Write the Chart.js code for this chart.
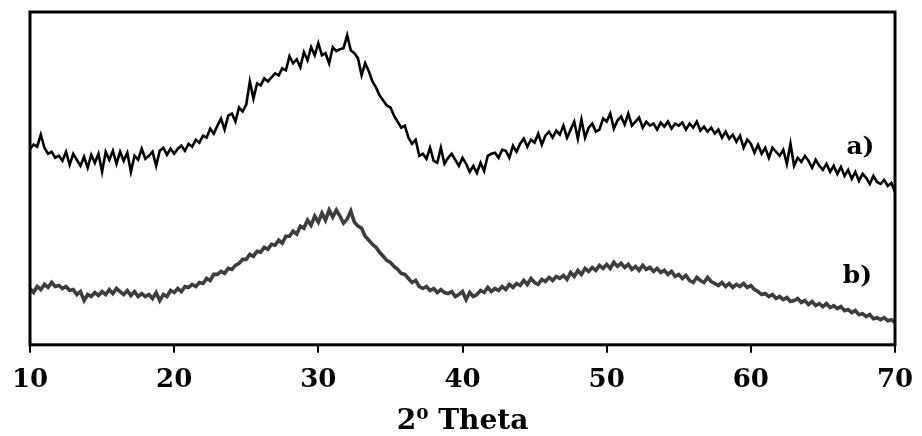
<!DOCTYPE html>
<html>
<head>
<meta charset="utf-8">
<script src="https://cdn.jsdelivr.net/npm/chart.js@4"></script>
<style>
  html, body { margin: 0; padding: 0; background: #fff; }
  #wrap { width: 922px; height: 436px; }
</style>
</head>
<body>
<div id="wrap"><canvas id="xrdChart" width="922" height="436"></canvas></div>
<script>
// XRD patterns, 2-theta from 10 to 70 deg in 0.25 deg steps, intensity in a.u.
const thetaStart = 10;
const thetaStep = 0.25;

// sample a)
const intensityA = [
  195, 199, 197, 209,  196, 190, 192, 186,  188, 183, 192, 179,  190, 184, 178, 187,
  176, 189, 181, 190,  172, 192, 184, 193,  180, 192, 183, 191,  172, 188, 184, 195,
  185, 188, 192, 178,  193, 196, 189, 195,  190, 195, 198, 193,  200, 197, 204, 201,
  208, 206, 215, 210,  218, 225, 214, 228,  230, 222, 236, 232,  239, 262, 245, 260,
  258, 265, 262, 266,  270, 268, 275, 273,  287, 280, 284, 276,  291, 283, 296, 288,
  300, 288, 290, 280,  296, 292, 294, 295,  308, 293, 290, 285,  268, 280, 272, 262,
  256, 248, 243, 238,  236, 228, 222, 216,  218, 206, 200, 204,  188, 190, 185, 196,
  183, 181, 196, 180,  186, 190, 184, 178,  186, 180, 172, 178,  171, 181, 173, 188,
  190, 191, 186, 194,  193, 186, 198, 192,  200, 205, 197, 204,  201, 210, 199, 208,
  212, 206, 213, 209,  218, 206, 214, 222,  205, 224, 206, 216,  220, 212, 214, 225,
  222, 230, 215, 223,  227, 219, 230, 218,  222, 226, 216, 222,  218, 220, 214, 221,
  217, 222, 215, 220,  218, 221, 214, 220,  216, 222, 213, 217,  212, 216, 210, 214,
  206, 212, 205, 209,  202, 208, 196, 204,  200, 191, 199, 190,  196, 186, 196, 192,
  188, 194, 180, 200,  178, 186, 182, 188,  183, 176, 184, 178,  174, 180, 172, 178,
  170, 177, 168, 174,  165, 172, 163, 170,  166, 160, 168, 162,  160, 164, 158, 161,
  152
];

// sample b)
const intensityB = [
  56, 52, 58, 55,  60, 57, 62, 58,  59, 56, 58, 54,  55, 50, 53, 44,
  50, 48, 52, 49,  53, 50, 55, 51,  56, 53, 50, 54,  49, 53, 48, 51,
  48, 50, 46, 52,  44, 50, 48, 54,  52, 56, 53, 58,  57, 60, 58, 62,
  61, 66, 64, 70,  70, 73, 71, 76,  75, 79, 81, 85,  85, 90, 88, 93,
  92, 97, 95, 100,  99, 104, 101, 108,  108, 113, 110, 118,  116, 124, 119, 128,
  122, 131, 124, 134,  127, 134, 128, 121,  125, 133, 122, 118,  116, 108, 104, 100,
  97, 92, 88, 84,  82, 78, 75, 71,  70, 66, 62, 64,  58, 56, 58, 54,
  56, 52, 55, 52,  51, 53, 48, 50,  53, 45, 52, 48,  50, 54, 52, 57,
  53, 56, 54, 58,  55, 60, 57, 61,  59, 64, 60, 66,  62, 60, 65, 63,
  67, 64, 68, 66,  69, 65, 72, 68,  74, 70, 76, 73,  77, 74, 79, 76,
  80, 76, 82, 78,  81, 77, 80, 75,  78, 74, 79, 75,  77, 73, 76, 72,
  74, 70, 73, 68,  70, 66, 69, 64,  62, 67, 64, 62,  67, 63, 61, 59,
  62, 58, 61, 57,  60, 58, 61, 57,  59, 55, 53, 50,  51, 48, 50, 46,
  48, 45, 47, 43,  44, 46, 42, 44,  40, 43, 39, 41,  38, 41, 37, 39,
  36, 38, 34, 35,  32, 34, 30, 31,  28, 30, 26, 27,  25, 27, 24, 25,
  22
];

const xTicks = [10, 20, 30, 40, 50, 60, 70];
const seriesNames = ['a)', 'b)'];
const seriesColors = ['#000000', '#3d3d3d'];
const nameTheta = [67.6, 67.4];
const nameIntensity = [196, 68];

const toPoints = (arr) => arr.map((v, i) => ({ x: thetaStart + i * thetaStep, y: v }));

const fontFamily = '"DejaVu Serif", "Liberation Serif", serif';

// box round the plot plus the a) / b) labels
const framePlugin = {
  id: 'frame',
  afterDatasetsDraw(chart) {
    const { ctx, chartArea: a, scales } = chart;
    ctx.save();
    ctx.strokeStyle = '#000';
    ctx.lineWidth = 3;
    ctx.strokeRect(a.left, a.top, a.right - a.left, a.bottom - a.top);
    ctx.fillStyle = '#000';
    ctx.font = `bold 25px ${fontFamily}`;
    ctx.textAlign = 'center';
    ctx.textBaseline = 'middle';
    seriesNames.forEach((name, i) => {
      ctx.fillText(name, scales.x.getPixelForValue(nameTheta[i]), scales.y.getPixelForValue(nameIntensity[i]));
    });
    ctx.restore();
  },
};

const ctx = document.getElementById('xrdChart').getContext('2d');
const chart = new Chart(ctx, {
  type: 'line',
  data: {
    datasets: [
      { label: seriesNames[0], data: toPoints(intensityA), borderColor: seriesColors[0], borderWidth: 2.6, pointRadius: 0, tension: 0 },
      { label: seriesNames[1], data: toPoints(intensityB), borderColor: seriesColors[1], borderWidth: 3.6, pointRadius: 0, tension: 0 },
    ],
  },
  options: {
    responsive: false,
    animation: false,
    events: [],
    layout: { padding: { left: 30, right: 27, top: 12, bottom: 0 } },
    plugins: { legend: { display: false }, tooltip: { enabled: false } },
    scales: {
      x: {
        type: 'linear',
        min: 10,
        max: 70,
        afterBuildTicks: (axis) => { axis.ticks = xTicks.map(v => ({ value: v })); },
        // edge labels fit inside the layout padding already
        afterFit: (axis) => { axis.paddingLeft = 0; axis.paddingRight = 0; },
        grid: { drawOnChartArea: false, drawTicks: true, tickLength: 8, color: '#000', lineWidth: 2 },
        border: { display: false },
        ticks: { color: '#000', padding: 12, maxRotation: 0, font: { family: fontFamily, size: 26, weight: 'bold' } },
        title: {
          display: true,
          text: '2\u2070 Theta',
          color: '#000',
          padding: { top: 0, bottom: 0 },
          font: { family: fontFamily, size: 28, weight: 'bold', lineHeight: 1.0 },
        },
      },
      y: { display: false, min: 0, max: 331 },
    },
  },
  plugins: [framePlugin],
});
</script>
</body>
</html>
